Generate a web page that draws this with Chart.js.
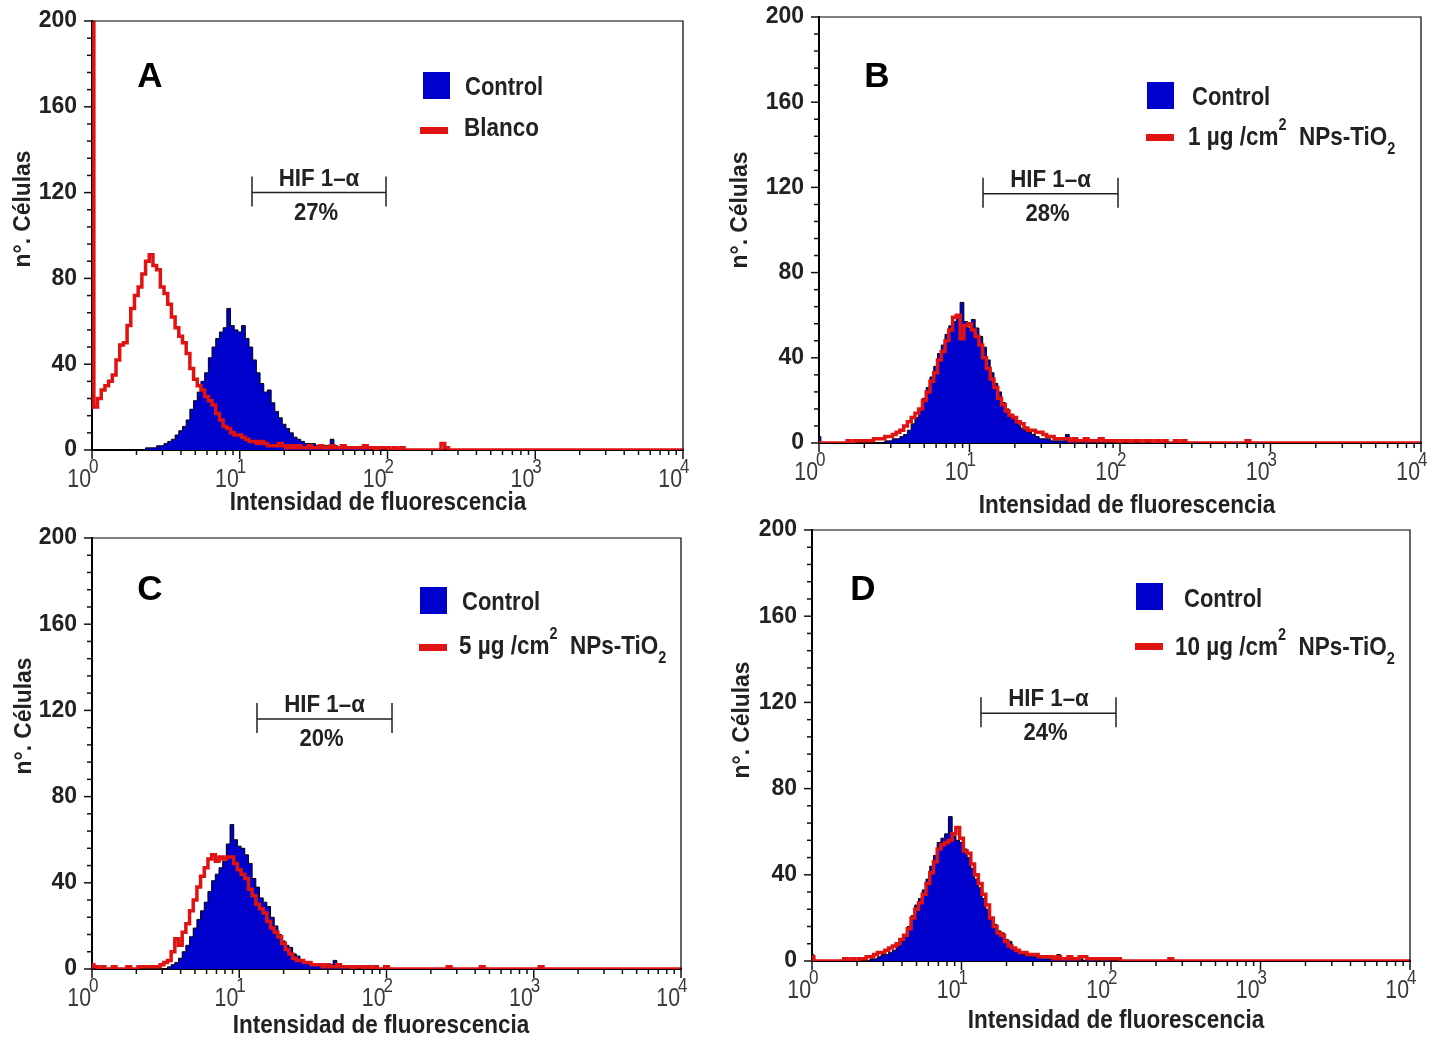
<!DOCTYPE html>
<html>
<head>
<meta charset="utf-8">
<script src="https://cdn.jsdelivr.net/npm/chart.js@4.4.0/dist/chart.umd.min.js"></script>
<style>
  body { margin: 0; background: #fff; width: 1449px; height: 1040px; position: relative; overflow: hidden; }
  canvas { position: absolute; }
</style>
</head>
<body>
<canvas id="panelA"></canvas>
<canvas id="panelB"></canvas>
<canvas id="panelC"></canvas>
<canvas id="panelD"></canvas>
<script>
// Flow cytometry histograms, HIF 1-α, four panels
// counts per channel, 40 channels per decade starting at 10^0

const channelsPerDecade = 40;
const decades = 4;
const yMax = 200;
const yStep = 40;
const xDecadeLabels = ['0', '1', '2', '3', '4'];
const panelLetters = ['A', 'B', 'C', 'D'];
const gatePercents = ['27%', '28%', '20%', '24%'];
const gateStart = [12.1, 12.3, 13.2, 13.5];
const gateEnd = [97.7, 97, 109, 108];
const gateLevel = [120, 117, 116, 115];
const treatmentLabels = [
  [['Blanco', 'n']],
  [['1 µg /cm', 'n'], ['2', 'sup'], ['  NPs-TiO', 'n'], ['2', 'sub']],
  [['5 µg /cm', 'n'], ['2', 'sup'], ['  NPs-TiO', 'n'], ['2', 'sub']],
  [['10 µg /cm', 'n'], ['2', 'sup'], ['  NPs-TiO', 'n'], ['2', 'sub']]
];

const controlA = [0,0,0,0,0,0,0,0,0,0, 0,0,0,0,0,1,1,1,2,2,
  3,4,5,7,9,11,14,19,23,27, 32,36,43,48,52,55,57,66,58,56,
  55,58,52,48,42,36,31,27,28,22, 18,15,12,10,8,6,5,4,3,3,
  3,2,2,2,2,5,2,1,2,1, 1,1,1,1,1,1,0,1,1,0, 1,0,1,0,1];
const blancoA = [250,20,24,28,30,32,35,42,49,50, 58,66,72,76,82,88,91,86,84,76,
  73,68,62,57,53,50,45,38,33,30, 28,25,23,21,17,14,11,10,8,7,
  7,6,5,4,4,3,4,3,2,2, 2,3,2,1,2,1,2,1,1,2,
  1,1,2,1,1,2,1,1,2,1, 1,1,1,1,2,1,1,0,1,1, 1,0,1,0,1,0,0,0,0,0,
  0,0,0,0,0,3,1];

const controlB = [3,0,0,0,0,0,0,0,0,0, 0,0,0,0,0,0,0,0,1,1,
  2,2,3,4,6,9,12,16,21,26, 31,36,42,46,51,55,57,60,66,57,
  54,58,54,50,45,39,33,28,24,19, 16,13,11,9,7,6,5,4,3,2,
  2,2,1,1,1,1,4,1,1,1, 0,1,1,0,1,0,1];
const treatB = [0,0,0,0,0,0,0,0,1,0, 1,1,1,1,1,2,2,2,3,3,
  4,5,6,8,10,12,14,16,20,24, 29,33,39,43,48,53,59,60,49,55,
  56,53,50,46,40,35,30,26,21,18, 15,13,12,10,9,7,6,6,5,5,
  4,3,3,2,2,2,2,1,2,1, 1,2,1,1,1,2,1,1,1,1, 0,1,1,0,1,1,0,1,1,0,
  1,0,1,0,0,1,0,1,0,0, 0,0,0,0,0,0,0,0,0,0, 0,0,0,0,1];

const controlC = [1,0,0,0,0,0,0,0,0,0, 0,0,0,0,0,0,0,0,0,0,
  0,1,2,3,5,8,11,15,19,23, 27,31,36,41,44,47,50,58,67,60,
  57,56,53,49,42,38,33,31,29,24, 20,16,13,11,10,7,6,4,3,3,
  2,2,2,1,1,2,4,1,1,1, 0,1,1,0,1];
const treatC = [2,1,0,1,0,0,1,0,0,0, 1,0,0,1,1,1,1,1,1,2,
  3,4,8,14,11,17,21,27,32,38, 43,47,51,53,50,52,51,52,52,49,
  46,44,42,37,34,30,28,26,22,19, 17,15,12,9,7,5,4,4,3,3,
  2,2,2,1,2,1,1,2,1,1, 1,0,1,1,0,1,0,1,0,0, 1,0,0,0,0,0,0,0,0,0,
  0,0,0,0,0,0,0,1,0,0, 0,0,0,0,0,0,1,0,0,0, 0,0,0,0,0,0,0,0,0,0,
  0,0,1];

const controlD = [3,0,0,0,0,0,0,0,0,0, 0,0,0,0,0,0,1,1,2,3,
  3,4,5,7,9,12,16,21,26,29, 33,38,44,49,55,57,59,67,58,56,
  55,52,48,43,38,34,29,24,20,17, 14,13,10,9,6,5,4,3,3,2,
  2,2,1,1,1,1,3,1,1,1, 1,0,1,0,1,1,1,0,1,1];
const treatD = [2,0,0,0,0,0,0,0,0,1, 0,1,0,1,1,2,2,3,4,4,
  5,6,7,8,10,12,15,20,24,27, 31,36,41,46,52,54,55,56,59,62,
  57,51,50,45,40,36,31,26,20,16, 13,12,9,7,6,5,4,4,3,3,
  3,2,2,2,2,1,2,1,1,2, 1,1,2,2,1,1,1,1,1,1, 1,1,1,0,0,0,0,0,0,0,
  0,0,0,0,0,0,1];

const controlSeries = [controlA, controlB, controlC, controlD];
const treatSeries = [blancoA, treatB, treatC, treatD];

// layout (page pixels)
const plotAreas = [
  { l: 92, t: 21, r: 683, b: 450 },
  { l: 819, t: 17, r: 1421, b: 443 },
  { l: 92, t: 538, r: 681, b: 969 },
  { l: 812, t: 530, r: 1410, b: 961 }
];
const decor = [
  { letter: [150, 77], square: [423, 72], ctrlText: [465, 88], dash: [420, 127], treatText: [464, 129], xTitle: [378, 503], yTitle: [23, 209] },
  { letter: [877, 77], square: [1147, 82], ctrlText: [1192, 98], dash: [1146, 134], treatText: [1188, 138], xTitle: [1127, 506], yTitle: [740, 210] },
  { letter: [150, 590], square: [420, 587], ctrlText: [462, 603], dash: [419, 644], treatText: [459, 647], xTitle: [381, 1026], yTitle: [24, 716] },
  { letter: [863, 590], square: [1136, 583], ctrlText: [1184, 600], dash: [1135, 643], treatText: [1175, 648], xTitle: [1116, 1021], yTitle: [742, 720] }
];

const BLUE = '#0000cd';
const RED = '#e01212';
const SANS = '"Liberation Sans", Arial, Helvetica, sans-serif';
const PAD_LEFT = 100, PAD_TOP = 40, PAD_RIGHT = 40, PAD_BOTTOM = 80;

function toPoints(counts) {
  const pts = [];
  for (let i = 0; i <= channelsPerDecade * decades; i++) {
    pts.push({ x: Math.pow(10, i / channelsPerDecade), y: i < counts.length ? counts[i] : 0 });
  }
  return pts;
}

// text squeezed horizontally, the figure uses a narrow face
function fillNarrow(ctx, text, x, y, font, sx, align) {
  ctx.save();
  ctx.font = font;
  ctx.textAlign = align || 'left';
  ctx.translate(x, y);
  ctx.scale(sx, 1);
  ctx.fillText(text, 0, 0);
  const w = ctx.measureText(text).width * sx;
  ctx.restore();
  return w;
}

function drawSegments(ctx, segments, x, y, size, sx) {
  let cx = x;
  segments.forEach(([text, kind]) => {
    const s = kind === 'n' ? size : Math.round(size * 0.62);
    const dy = kind === 'sup' ? -size * 0.5 : kind === 'sub' ? size * 0.45 : 0;
    cx += fillNarrow(ctx, text, cx, y + dy, `bold ${s}px ${SANS}`, sx, 'left');
  });
}

const histogramDecor = {
  id: 'histogramDecor',
  afterDraw(chart, args, opts) {
    const k = opts.panel;
    const { ctx, chartArea: area, scales: { x, y } } = chart;
    const ox = plotAreas[k].l - PAD_LEFT;
    const oy = plotAreas[k].t - PAD_TOP;
    const d = decor[k];
    ctx.save();

    // frame top/right
    ctx.strokeStyle = '#000';
    ctx.lineWidth = 1.2;
    ctx.beginPath();
    ctx.moveTo(area.left, area.top);
    ctx.lineTo(area.right, area.top);
    ctx.lineTo(area.right, area.bottom);
    ctx.stroke();

    // y ticks, minor every 8
    ctx.lineWidth = 1.5;
    ctx.strokeStyle = '#111';
    for (let v = 0; v <= yMax; v += yStep / 5) {
      const py = y.getPixelForValue(v);
      const len = v % yStep === 0 ? 8 : 5;
      ctx.beginPath();
      ctx.moveTo(area.left - len, py);
      ctx.lineTo(area.left, py);
      ctx.stroke();
    }
    // x ticks, log minor
    for (let dec = 0; dec <= decades; dec++) {
      for (let m = 1; m <= 9; m++) {
        if (dec === decades && m > 1) break;
        const px = x.getPixelForValue(m * Math.pow(10, dec));
        const len = m === 1 ? 9 : 5;
        ctx.beginPath();
        ctx.moveTo(px, area.bottom);
        ctx.lineTo(px, area.bottom + len);
        ctx.stroke();
      }
    }

    // x tick labels 10^n
    ctx.fillStyle = '#3a3a3a';
    ctx.textBaseline = 'alphabetic';
    xDecadeLabels.forEach((e, dec) => {
      const px = x.getPixelForValue(Math.pow(10, dec));
      fillNarrow(ctx, '10', px - 1, area.bottom + 37, `26px ${SANS}`, 0.82, 'right');
      fillNarrow(ctx, e, px - 3, area.bottom + 23, `20px ${SANS}`, 0.85, 'left');
    });

    // axis titles
    ctx.fillStyle = '#222';
    ctx.textBaseline = 'middle';
    fillNarrow(ctx, 'Intensidad de fluorescencia', d.xTitle[0] - ox, d.xTitle[1] - oy, `bold 25px ${SANS}`, 0.9, 'center');
    ctx.save();
    ctx.translate(d.yTitle[0] - ox, d.yTitle[1] - oy);
    ctx.rotate(-Math.PI / 2);
    fillNarrow(ctx, 'n°. Células', 0, 0, `bold 24px ${SANS}`, 0.95, 'center');
    ctx.restore();

    // panel letter
    ctx.fillStyle = '#000';
    fillNarrow(ctx, panelLetters[k], d.letter[0] - ox, d.letter[1] - oy, `bold 35px ${SANS}`, 1, 'center');

    // legend
    ctx.fillStyle = BLUE;
    ctx.fillRect(d.square[0] - ox, d.square[1] - oy, 27, 27);
    ctx.fillStyle = RED;
    ctx.fillRect(d.dash[0] - ox, d.dash[1] - oy, 28, 7);
    ctx.fillStyle = '#222';
    fillNarrow(ctx, 'Control', d.ctrlText[0] - ox, d.ctrlText[1] - oy, `bold 25px ${SANS}`, 0.88, 'left');
    drawSegments(ctx, treatmentLabels[k], d.treatText[0] - ox, d.treatText[1] - oy, 25, 0.9);

    // gate marker
    const gx0 = x.getPixelForValue(gateStart[k]);
    const gx1 = x.getPixelForValue(gateEnd[k]);
    const gy = y.getPixelForValue(gateLevel[k]);
    ctx.strokeStyle = '#222';
    ctx.lineWidth = 1.5;
    ctx.beginPath();
    ctx.moveTo(gx0, gy - 16); ctx.lineTo(gx0, gy + 14);
    ctx.moveTo(gx1, gy - 16); ctx.lineTo(gx1, gy + 14);
    ctx.moveTo(gx0, gy); ctx.lineTo(gx1, gy);
    ctx.stroke();
    ctx.textBaseline = 'alphabetic';
    fillNarrow(ctx, 'HIF 1–α', (gx0 + gx1) / 2, gy - 7, `bold 24px ${SANS}`, 0.93, 'center');
    fillNarrow(ctx, gatePercents[k], (gx0 + gx1) / 2 - 3, gy + 27, `bold 24px ${SANS}`, 0.92, 'center');

    ctx.restore();
  }
};

function initPanel(k) {
  const canvas = document.getElementById('panel' + panelLetters[k]);
  const a = plotAreas[k];
  const w = a.r - a.l + PAD_LEFT + PAD_RIGHT;
  const h = a.b - a.t + PAD_TOP + PAD_BOTTOM;
  canvas.width = w;
  canvas.height = h;
  canvas.style.left = (a.l - PAD_LEFT) + 'px';
  canvas.style.top = (a.t - PAD_TOP) + 'px';
  canvas.style.width = w + 'px';
  canvas.style.height = h + 'px';

  return new Chart(canvas, {
    type: 'line',
    data: {
      datasets: [
        {
          label: 'treatment',
          data: toPoints(treatSeries[k]),
          borderColor: RED,
          borderWidth: 3.5,
          stepped: 'middle',
          pointRadius: 0,
          fill: false,
          order: 0
        },
        {
          label: 'Control',
          data: toPoints(controlSeries[k]),
          borderColor: '#000',
          borderWidth: 1,
          backgroundColor: BLUE,
          stepped: 'middle',
          pointRadius: 0,
          fill: 'origin',
          order: 1
        }
      ]
    },
    options: {
      responsive: false,
      animation: false,
      events: [],
      layout: { padding: { top: PAD_TOP, right: PAD_RIGHT, left: 0, bottom: 0 } },
      plugins: {
        legend: { display: false },
        tooltip: { enabled: false },
        histogramDecor: { panel: k }
      },
      scales: {
        x: {
          type: 'logarithmic',
          min: 1,
          max: Math.pow(10, decades),
          grid: { display: false },
          border: { display: true, color: '#000', width: 2 },
          ticks: { display: false },
          afterFit(s) { s.height = PAD_BOTTOM; }
        },
        y: {
          min: 0,
          max: yMax,
          grid: { display: false },
          border: { display: true, color: '#000', width: 2 },
          ticks: {
            stepSize: yStep,
            padding: 7,
            color: '#222',
            font: { family: SANS, size: 23, weight: 'bold' }
          },
          afterFit(s) { s.width = PAD_LEFT; }
        }
      }
    },
    plugins: [histogramDecor]
  });
}

[0, 1, 2, 3].forEach(initPanel);
</script>
</body>
</html>
